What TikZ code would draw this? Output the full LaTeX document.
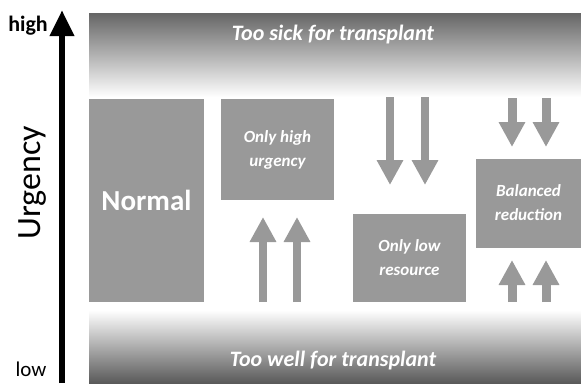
\documentclass[tikz,border=0pt]{standalone}
\usepackage{fontspec}
\setmainfont{Carlito}
\usetikzlibrary{arrows.meta,positioning}

\begin{document}
\begin{tikzpicture}[
    x = 1pt, y = -1pt, % pixel grid, y grows downwards
    box/.style = {fill = black!40, text = white, inner sep = 0pt,
        align = center, font = \bfseries\itshape\fontsize{17}{24}\selectfont},
    band/.style = {inner sep = 0pt, anchor = north west,
        minimum width = 492pt},
    bandtext/.style = {text = white,
        font = \bfseries\itshape\fontsize{22}{24}\selectfont},
    flow/.style = {draw = black!40, line width = 8pt,
        -{Triangle[width=25pt,length=25pt]}},
    small flow/.style = {flow, line width = 9pt}
    ]
    \useasboundingbox (0,0) rectangle (581,383);

    % the two bands
    \node[band, top color = black!60, bottom color = white,
        minimum height = 84pt] (sick) at (89,13) {};
    \node[band, top color = white, bottom color = black!65,
        minimum height = 73pt] (well) at (89,310) {};
    \node[bandtext] (sicktext) at (333,35) {Too sick for transplant};
    \node[bandtext] (welltext) at (333,361) {Too well for transplant};

    % urgency axis
    \coordinate (lo) at (62,383);
    \coordinate (hi) at (62,10);
    \draw[line width = 6.5pt, -{Triangle[width=23pt,length=26pt]}] (lo) -- (hi);
    \node[font = \bfseries\fontsize{22}{24}\selectfont] (high) at (28,26) {high};
    \node[anchor = base, inner sep = 0pt,
        font = \fontsize{21}{24}\selectfont] (low) at (31,376) {low};
    \node[rotate = 90, font = \fontsize{34}{36}\selectfont] (urg) at (33,183) {Urgency};

    % regions
    \node[box, minimum width = 115pt, minimum height = 203pt,
        font = \bfseries\fontsize{29}{32}\selectfont] (normal) at (146.5,200.5) {Normal};
    \node[box, minimum width = 113pt, minimum height = 101pt] (high urg)
        at (277.5,149.5) {Only high\\urgency};
    \node[box, minimum width = 113pt, minimum height = 88pt] (low res)
        at (409.5,258) {Only low\\resource};
    \node[box, minimum width = 105pt, minimum height = 89pt] (balanced)
        at (528.5,203) {Balanced\\reduction};

    % arrows
    \foreach \ax in {263,297} {
        \coordinate (up s\ax) at (\ax,302);
        \coordinate (up e\ax) at (\ax,217);
        \draw[flow] (up s\ax) -- (up e\ax);
    }
    \foreach \ax in {390,425} {
        \coordinate (dn s\ax) at (\ax,97);
        \coordinate (dn e\ax) at (\ax,185);
        \draw[flow] (dn s\ax) -- (dn e\ax);
    }
    \foreach \ax in {512,546} {
        \coordinate (bd s\ax) at (\ax,98);
        \coordinate (bd e\ax) at (\ax,147);
        \draw[small flow] (bd s\ax) -- (bd e\ax);
        \coordinate (bu s\ax) at (\ax,302);
        \coordinate (bu e\ax) at (\ax,260);
        \draw[small flow] (bu s\ax) -- (bu e\ax);
    }
\end{tikzpicture}
\end{document}
